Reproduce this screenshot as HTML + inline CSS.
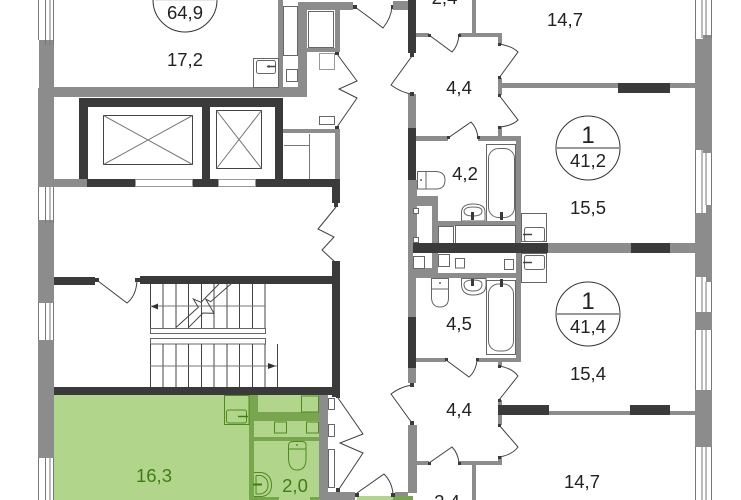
<!DOCTYPE html>
<html><head><meta charset="utf-8"><style>
html,body{margin:0;padding:0;background:#fff;width:741px;height:500px;overflow:hidden}
svg{display:block}
text{font-family:"Liberation Sans",sans-serif;font-size:18.5px;fill:#222;text-anchor:middle}
.g{fill:#8c8c8c}.d{fill:#3a3a3a}.gw{fill:#78a64e}
.l{fill:none;stroke:#444;stroke-width:1}
.m{fill:none;stroke:#777;stroke-width:1}
.f{fill:#fff;stroke:#666;stroke-width:1}
.h{fill:none;stroke:#3f3f3f;stroke-width:1}
.gl{fill:none;stroke:#4f8a1f;stroke-width:1}
</style></head><body>
<svg width="741" height="500" viewBox="0 0 741 500" xmlns="http://www.w3.org/2000/svg">
<rect x="54" y="395" width="265" height="105" fill="#b1d58a"/>
<rect x="393" y="496" width="20" height="4" class="gw"/>
<rect x="357" y="496" width="36" height="4" fill="#b1d58a"/>

<!-- exterior left -->
<rect x="39" y="40" width="15" height="147" class="g"/>
<rect x="38" y="88" width="16" height="99" class="g"/>
<rect x="38" y="220" width="16" height="83" class="g"/>
<rect x="38" y="340" width="16" height="118" class="g"/>
<g class="m">
<path d="M38.500 0V40M45.500 0V45M50 0V45M53.500 0V45"/>
<path d="M38.500 187V220M45.500 187V223M50 187V223M53.500 187V223"/>
<path d="M38.500 303V340M45.500 303V340M50 303V340M53.500 303V340"/>
<path d="M38.500 458V500M45.500 458V500M50 458V500M53.500 458V500"/>
</g>
<!-- exterior right -->
<rect x="695" y="39" width="8" height="111" class="g"/><rect x="703" y="35" width="9" height="118" class="g"/>
<rect x="695" y="213" width="11" height="64" class="g"/><rect x="706" y="205" width="6" height="77" class="g"/>
<rect x="695" y="312" width="17" height="18" class="g"/>
<rect x="695" y="390" width="17" height="57" class="g"/>
<g class="m">
<path d="M695.500 0V39M702 0V38M706 0V38M711.500 0V38"/>
<path d="M695.500 150V213M702 150V213M706 153V205M711.500 153V205"/>
<path d="M695.500 277V312M702 277V312M706 282V312M711.500 282V312"/>
<path d="M695.500 330V390M702 330V390M706 330V390M711.500 330V390"/>
<path d="M695.500 447V500M702 447V500M706 447V500M711.500 447V500"/>
</g>

<!-- top-left room walls -->
<rect x="54" y="87" width="253" height="10" class="g"/>
<rect x="298" y="2" width="9" height="95" class="g"/>
<rect x="298" y="2" width="55" height="8" class="g"/>
<rect x="278" y="0" width="5" height="87" class="g"/>
<rect x="304" y="48" width="36" height="4" class="g"/>
<rect x="335" y="10" width="5" height="42" class="g"/>
<rect x="308.500" y="11.500" width="25" height="36" class="f"/>
<rect x="283.500" y="6.500" width="14" height="49" class="f"/>
<rect x="286.500" y="69.500" width="11" height="12" class="f"/>
<rect x="253.500" y="58.500" width="25" height="29" class="f"/>
<rect x="256.500" y="60.500" width="19" height="13" rx="2" class="f"/>
<path d="M267 66.500H276" stroke="#444" stroke-width="1.500"/><circle cx="269" cy="66.500" r="1.200" fill="#444"/>
<rect x="319.500" y="53.500" width="15" height="16" fill="#fff" stroke="#999"/>
<rect x="319.500" y="116.500" width="15" height="8" class="f"/>
<rect x="353" y="5" width="4" height="4" class="d"/>
<path class="h" d="M337 54L357 81L339 89L357 98L337 127"/>
<rect x="335" y="52" width="4" height="3" class="d"/><rect x="335" y="126" width="4" height="3" class="d"/>
<path class="h" d="M355 7L370 18L383 28Q391 18 392 7"/>
<rect x="391" y="5" width="3" height="4" class="d"/>
<rect x="393" y="1" width="15" height="9" class="g"/>

<!-- lift shaft -->
<rect x="79" y="98" width="204" height="9" class="d"/>
<rect x="79" y="98" width="9" height="81" class="d"/>
<rect x="202" y="98" width="8" height="89" class="d"/>
<rect x="275" y="98" width="8" height="89" class="d"/>
<rect x="54" y="179" width="33" height="8" class="g"/>
<rect x="87" y="179" width="48" height="8" class="d"/>
<rect x="193" y="179" width="25" height="8" class="d"/>
<rect x="256" y="179" width="84" height="8" class="d"/>
<rect x="135.500" y="179.500" width="57" height="7" fill="#fff" stroke="#999"/>
<rect x="218.500" y="179.500" width="37" height="7" fill="#fff" stroke="#999"/>
<rect x="103.500" y="115.500" width="89" height="49" class="l"/>
<path class="m" d="M103.500 115.500L192.500 164.500M192.500 115.500L103.500 164.500"/>
<rect x="216.500" y="110.500" width="45" height="58" class="l"/>
<path class="m" d="M216.500 110.500L261.500 168.500M261.500 110.500L216.500 168.500"/>
<rect x="283" y="129" width="57" height="4" class="g"/>
<rect x="335" y="129" width="5" height="50" class="g"/>
<path class="m" d="M309.500 134V179M284 145.500H309"/>
<rect x="332" y="179" width="8" height="24" class="d"/>
<rect x="334" y="203" width="4" height="4" class="d"/>
<path class="h" d="M336 207L318 229L334 237L322 250L335 262"/>
<rect x="332" y="261" width="8" height="136" class="d"/>

<!-- stair -->
<rect x="54" y="277" width="41" height="8" class="d"/><rect x="95" y="278" width="4" height="4" class="d"/>
<rect x="135" y="278" width="5" height="4" class="d"/>
<rect x="140" y="276" width="192" height="8" class="d"/>
<rect x="54" y="387" width="286" height="8" class="d"/>
<path class="h" d="M98 281L127 303Q136 296 137 281"/>
<path class="l" d="M150.500 284V328M163 284V328M176 284V328M188.500 284V328M201.500 284V328M214 284V328M227 284V328M239.500 284V328M252.500 284V328M265 284V328"/>
<path class="m" d="M150 306H265"/>
<rect x="150.500" y="328.500" width="115" height="5" class="f"/>
<rect x="150.500" y="338.500" width="115" height="5.500" class="f"/>
<path class="l" d="M150.500 344V387M163 344V387M176 344V387M188.500 344V387M201.500 344V387M214 344V387M227 344V387M239.500 344V387M252.500 344V387M265 344V387M277.500 344V387"/>
<path class="m" d="M150 366H277"/>
<path class="l" d="M175.700 327.700L198.300 307.300L193.300 299L201 302.300L219 284M188.300 327.700L203 313L214 313.300L205.700 299L210.700 301.700L231.700 283.300"/>
<path d="M151 306.500L158 303.500V309.500Z" fill="#333"/>
<path d="M276 366L268 363V369Z" fill="#333"/>

<!-- central right walls upper -->
<rect x="408" y="0" width="8" height="53" class="d"/><rect x="410" y="53" width="4" height="4" class="d"/>
<rect x="408" y="94" width="8" height="34" class="g"/><rect x="410" y="92" width="4" height="4" class="d"/>
<rect x="408" y="128" width="8" height="52" class="d"/>
<rect x="408" y="180" width="9" height="70" class="g"/>
<path class="h" d="M412 56L391 85Q402 93 412 94"/>
<rect x="416" y="33" width="13" height="4" class="g"/><rect x="459" y="33" width="43" height="4" class="g"/>
<rect x="472" y="0" width="4" height="33" class="g"/>
<rect x="498" y="33" width="4" height="11" class="g"/>
<rect x="498" y="78" width="4" height="17" class="g"/>
<rect x="498" y="127" width="4" height="10" class="g"/>
<path class="h" d="M429 35L452 52Q458 46 459 35"/>
<path class="h" d="M499 44Q512 46 518 52L499 78"/>
<path class="h" d="M499 95L518 120Q512 126 499 127"/>
<rect x="428" y="34" width="3" height="3" class="d"/><rect x="458" y="34" width="3" height="3" class="d"/>
<rect x="498" y="43" width="3" height="3" class="d"/><rect x="498" y="76" width="3" height="3" class="d"/><rect x="498" y="94" width="3" height="3" class="d"/><rect x="498" y="126" width="3" height="3" class="d"/>
<rect x="502" y="83" width="193" height="5" class="g"/>
<rect x="618" y="83" width="52" height="10" class="d"/>
<rect x="416" y="136" width="32" height="5" class="g"/><rect x="478" y="136" width="43" height="5" class="g"/>
<rect x="516" y="136" width="5" height="107" class="g"/>
<path class="h" d="M448 138L471 122Q477 128 478 138"/>
<rect x="447" y="136" width="3" height="3" class="d"/><rect x="477" y="136" width="3" height="3" class="d"/>
<rect x="486.500" y="144.500" width="29" height="77" class="f"/>
<rect x="488.500" y="148.500" width="26" height="69" rx="10" class="f"/>
<rect x="500" y="212" width="3" height="8" class="d"/>
<path class="f" d="M417.500 171.500H426V189H417.500Z"/>
<path class="f" d="M426 171.500H436Q445 172 445 180Q445 189 436 189H426Z"/>
<circle cx="421" cy="180" r="0.900" fill="#333"/>
<path class="f" d="M461.500 221V212Q462 204 473 204Q485 204 485 212V221Z"/>
<path class="f" d="M464 211Q465 207 473 207Q482 207 482 211Q482 216 473 216Q464 216 464 211Z"/>
<rect x="471" y="212" width="3" height="8" class="d"/>

<rect x="408" y="196" width="30" height="10" class="g"/>
<rect x="432" y="196" width="6" height="47" class="g"/>
<rect x="438" y="221" width="83" height="5" class="g"/>
<rect x="413.500" y="208.500" width="5" height="5" class="f"/><rect x="413.500" y="237.500" width="5" height="5" class="f"/>
<rect x="438.500" y="226.500" width="15" height="17" class="f"/>
<rect x="455.500" y="225.500" width="60" height="18" class="f"/>
<rect x="521.500" y="213.500" width="25" height="28" class="f"/>
<rect x="524.500" y="227.500" width="20" height="14" rx="2" class="f"/>
<path d="M523 234.500H532" stroke="#444" stroke-width="1.500"/>

<!-- spine -->
<rect x="548" y="243" width="147" height="10" class="g"/>
<rect x="408" y="243" width="5" height="25" class="g"/>
<rect x="413" y="243" width="135" height="10" class="d"/>
<rect x="631" y="243" width="39" height="10" class="d"/>
<rect x="516" y="253" width="5" height="25" class="g"/>

<!-- lower -->
<rect x="432" y="253" width="6" height="25" class="g"/>
<rect x="408" y="268" width="30" height="10" class="g"/>
<rect x="438" y="273" width="83" height="5" class="g"/>
<rect x="413.500" y="256.500" width="11" height="12" class="f"/>
<rect x="438.500" y="254.500" width="11" height="12" class="f"/>
<rect x="455.500" y="258.500" width="9" height="9.500" class="f"/>
<rect x="504.500" y="259.500" width="9" height="10" class="f"/>
<rect x="521.500" y="253.500" width="25" height="29" class="f"/>
<rect x="524.500" y="255.500" width="20" height="14" rx="2" class="f"/>
<path d="M523 262.500H532" stroke="#444" stroke-width="1.500"/>
<rect x="516" y="278" width="5" height="84" class="g"/>
<rect x="486.500" y="280.500" width="29" height="74" class="f"/>
<rect x="488.500" y="284" width="25" height="67" rx="10" class="f"/>
<rect x="500" y="279" width="3" height="8" class="d"/>
<path class="f" d="M431.500 278.500H448.500V289H431.500Z"/>
<path class="f" d="M431.500 289V298Q432 307 440 307Q448.500 307 448.500 298V289Z"/>
<circle cx="440" cy="283" r="0.900" fill="#333"/>
<path class="f" d="M461.500 278.500V285Q462 295 473 295Q486 295 486 285V278.500Z"/>
<path class="f" d="M464 284Q465 280 473 280Q482 280 482 284Q482 291 473 291Q464 291 464 284Z"/>
<rect x="471" y="279" width="3" height="7" class="d"/>

<rect x="408" y="278" width="8" height="39" class="g"/>
<rect x="408" y="317" width="8" height="51" class="d"/>
<rect x="408" y="368" width="8" height="15" class="g"/>
<rect x="408" y="425" width="9" height="68" class="g"/>
<rect x="410" y="383" width="4" height="4" class="d"/><rect x="410" y="421" width="4" height="4" class="d"/>
<path class="h" d="M412 385Q400 387 391 394L412 423"/>
<rect x="416" y="358" width="30" height="4" class="g"/><rect x="477" y="358" width="43" height="4" class="g"/>
<path class="h" d="M446 360L469 377Q476 371 477 360"/>
<rect x="445" y="358" width="3" height="3" class="d"/><rect x="476" y="358" width="3" height="3" class="d"/>
<rect x="498" y="362" width="4" height="4" class="g"/>
<rect x="498" y="400" width="4" height="25" class="g"/>
<rect x="498" y="457" width="4" height="8" class="g"/>
<path class="h" d="M499 366Q512 368 518 376L499 400"/>
<path class="h" d="M499 425L518 447Q512 455 499 457"/>
<rect x="498" y="365" width="3" height="3" class="d"/><rect x="498" y="399" width="3" height="3" class="d"/><rect x="498" y="424" width="3" height="3" class="d"/><rect x="498" y="456" width="3" height="3" class="d"/>
<rect x="498" y="405" width="51" height="10" class="d"/>
<rect x="549" y="411" width="146" height="4" class="g"/>
<rect x="630" y="405" width="40" height="10" class="d"/>
<rect x="416" y="461" width="13" height="4" class="g"/><rect x="459" y="461" width="43" height="4" class="g"/>
<rect x="472" y="465" width="4" height="35" class="g"/>
<path class="h" d="M429 463L452 447Q458 453 459 463"/>
<rect x="428" y="462" width="3" height="3" class="d"/><rect x="458" y="462" width="3" height="3" class="d"/>

<!-- green unit -->
<rect x="249" y="395" width="5" height="105" class="gw"/>
<rect x="254" y="412" width="65" height="9" class="gw"/>
<rect x="254" y="437" width="65" height="4" class="gw"/>
<rect x="254" y="395" width="4" height="17" class="gw"/>
<rect x="224.500" y="395.500" width="24.500" height="29" class="gl"/>
<rect x="226.500" y="410" width="20" height="13" rx="2" class="gl"/>
<path d="M238 416.500H248" stroke="#3f7d14" stroke-width="1.500"/>
<rect x="301.500" y="396" width="17" height="16" class="gl"/>
<rect x="274.500" y="422" width="12" height="11" class="gl"/>
<rect x="306.500" y="422" width="12" height="11" class="gl"/>
<path class="gl" d="M288.500 449V445Q289 441.500 293 441.500H302Q306 441.500 306 445V449H288.500V459Q289 470 297 470Q306 470 306 459V449"/>
<circle cx="297" cy="445" r="0.900" fill="#3f7d14"/>
<path class="gl" d="M254 472.500H262Q271.500 475 271.500 485Q271.500 495 262 496.500H254M256 475.500H261Q268 478 268 485Q268 492 261 494H256V475.500"/>
<path d="M253 484.500H262" stroke="#3f7d14" stroke-width="2"/>
<rect x="249" y="497" width="30" height="3" class="gw"/>
<rect x="310" y="497" width="9" height="3" class="gw"/>
<rect x="319" y="395" width="9" height="105" class="g"/>
<rect x="328" y="492" width="27" height="8" class="g"/>
<rect x="328.500" y="398.500" width="6" height="11" class="f"/>
<rect x="328.500" y="424.500" width="6" height="12" class="f"/>
<rect x="328.500" y="449.500" width="6" height="38" class="f"/>
<rect x="336" y="395" width="4" height="3" class="d"/>
<path class="h" d="M338 398L363 434L340 443L363 453L339 489"/>
<rect x="336" y="488" width="4" height="4" class="d"/>
<path class="h" d="M357 493L384 474Q392 482 393 494"/>
<rect x="355" y="493" width="4" height="4" class="d"/><rect x="391" y="493" width="4" height="4" class="d"/>
<rect x="395" y="492" width="13" height="4" class="g"/>

<!-- circles -->
<circle cx="185" cy="0" r="32" fill="#fff" stroke="#333"/>
<path d="M155 0H215" stroke="#ccc" stroke-width="1"/>
<text x="185" y="19">64,9</text>
<circle cx="588" cy="148" r="32" fill="#fff" stroke="#333"/>
<path d="M557 148H619" stroke="#333"/>
<text x="588" y="143" style="font-size:24px">1</text>
<text x="588" y="167">41,2</text>
<circle cx="588" cy="314" r="32" fill="#fff" stroke="#333"/>
<path d="M557 314H619" stroke="#333"/>
<text x="588" y="309" style="font-size:24px">1</text>
<text x="588" y="333">41,4</text>

<!-- labels -->
<text x="185" y="66">17,2</text>
<text x="444.500" y="4">2,4</text>
<text x="565" y="26">14,7</text>
<text x="459" y="94">4,4</text>
<text x="465" y="180">4,2</text>
<text x="588" y="214">15,5</text>
<text x="459" y="330">4,5</text>
<text x="588" y="380">15,4</text>
<text x="459" y="416">4,4</text>
<text x="582" y="488">14,7</text>
<text x="447" y="508">2,4</text>
<text x="154" y="482" style="fill:#3f7d14">16,3</text>
<text x="295" y="492" style="fill:#3f7d14">2,0</text>
</svg>
</body></html>
